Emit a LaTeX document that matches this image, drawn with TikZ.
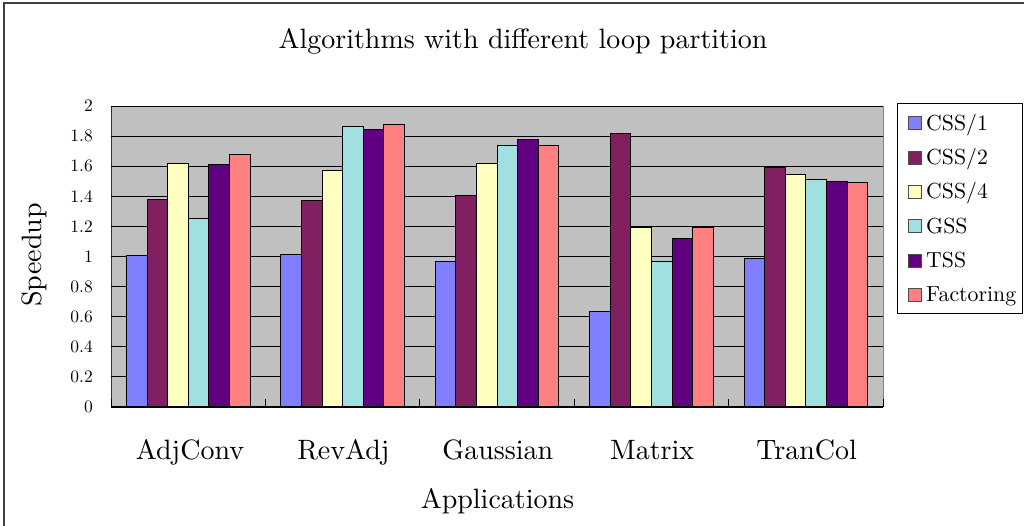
\documentclass[tikz,border=0pt]{standalone}
\usepackage{fontspec}
\setmainfont{lmroman10-regular.otf}
\definecolor{plotgray}{RGB}{192,192,192}
\definecolor{c0}{RGB}{128,128,255}
\definecolor{c1}{RGB}{128,32,96}
\definecolor{c2}{RGB}{255,255,192}
\definecolor{c3}{RGB}{160,224,224}
\definecolor{c4}{RGB}{96,0,128}
\definecolor{c5}{RGB}{255,128,128}
\tikzset{
  frameline/.style={draw=black!75, line width=1.5pt},
  gridline/.style={draw=black, line width=0.9pt},
  barbox/.style={draw=black, line width=0.9pt},
  ticklbl/.style={anchor=east, font=\fontsize{17.5}{20}\selectfont, inner sep=0pt},
  catlbl/.style={anchor=base, font=\fontsize{28}{32}\selectfont, inner sep=0pt},
  leglbl/.style={anchor=base west, font=\fontsize{21.8}{24}\selectfont, inner sep=0pt},
  legkey/.style={draw=black!70, line width=0.6pt},
}
\begin{document}
\begin{tikzpicture}[x=1pt,y=-1pt]
\useasboundingbox (0,0) rectangle (1024,526);
% outer chart frame (extends beyond the page)
\draw[frameline] (4,526) -- (4,3) -- (1024,3);
% plot area
\fill[plotgray] (111,106) rectangle (883,407);
\draw[gray, line width=0.8pt] (883,106) -- (883,407);
\draw[black!80, line width=0.8pt] (111,106) -- (111,407);
\foreach \k in {1,...,10}
  \draw[gridline] (111,{407-30.1*\k}) -- (883,{407-30.1*\k});
% bars
\foreach \a/\b/\c/\d/\e/\f [count=\g from 0] in {
  1.01/1.38/1.62/1.25/1.61/1.68,
  1.015/1.375/1.575/1.865/1.845/1.875,
  0.965/1.405/1.62/1.74/1.775/1.74,
  0.635/1.815/1.19/0.965/1.12/1.195,
  0.985/1.59/1.545/1.51/1.50/1.495}{
  \foreach \v [count=\j from 0] in {\a,\b,\c,\d,\e,\f}
    \draw[barbox, fill=c\j] ({126.44+154.4*\g+20.587*\j},407) rectangle ++(20.587,{-150.5*\v});
}
% category axis
\draw[black, line width=1.6pt] (111,407) -- (883,407);
\foreach \k in {0,...,5}
  \draw[black, line width=1pt] ({111+154.4*\k},407) -- ++(0,-8);
% value labels
\foreach \k/\t in {0/0,1/0.2,2/0.4,3/0.6,4/0.8,5/1,6/1.2,7/1.4,8/1.6,9/1.8,10/2}
  \node[ticklbl] (yt\k) at (93,{407-30.1*\k}) {\t};
% category labels
\node[catlbl] (cat1) at (190,459) {AdjConv};
\node[catlbl] (cat2) at (343.4,459) {RevAdj};
\node[catlbl] (cat3) at (497.8,459) {Gaussian};
\node[catlbl] (cat4) at (652.2,459) {Matrix};
\node[catlbl] (cat5) at (806.6,459) {TranCol};
% titles
\node[catlbl] (title) at (523,49) {Algorithms with different loop partition};
\node[catlbl] (xlab) at (497.5,508) {Applications};
\node[font=\fontsize{28}{32}\selectfont, rotate=90, inner sep=0pt] (ylab) at (34,255) {Speedup};
% legend
\draw[black, line width=0.8pt, fill=white] (897,103) rectangle (1022,313);
\foreach \t [count=\j from 0] in {{CSS/1},{CSS/2},{CSS/4},{GSS},{TSS},{Factoring}}{
  \draw[legkey, fill=c\j] (908,{116.8+34.3*\j}) rectangle (921,{129.8+34.3*\j});
  \node[leglbl] (leg\j) at (926,{130.3+34.3*\j}) {\t};
}
\end{tikzpicture}
\end{document}
